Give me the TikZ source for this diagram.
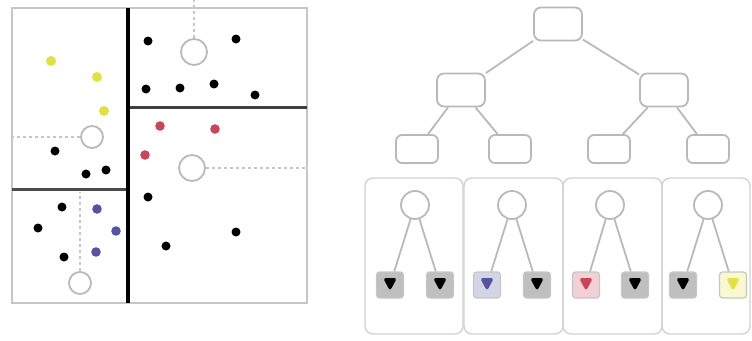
\documentclass[tikz,border=0pt]{standalone}
\usetikzlibrary{positioning,shapes.geometric}
\definecolor{pblue}{RGB}{84,84,160}
\definecolor{pred}{RGB}{200,70,90}
\definecolor{pyel}{RGB}{225,225,70}
\begin{document}
\begin{tikzpicture}[x=1pt, y=-1pt,
  r/.style={draw=gray!55, rounded corners=7pt, line width=1.8pt, minimum width=48pt, minimum height=33pt},
  q/.style={draw=gray!55, rounded corners=6pt, line width=1.8pt, minimum width=42pt, minimum height=28pt},
  c/.style={circle, draw=gray!55, line width=1.8pt, minimum size=28pt, inner sep=0pt},
  s/.style={circle, draw=gray!55, line width=1.8pt, minimum size=22pt, inner sep=0pt},
  lf/.style={draw=gray!45, rounded corners=3pt, line width=1.2pt, fill=#1!25, minimum width=27pt, minimum height=26pt,
    path picture={\fill[#1] ([yshift=1pt]path picture bounding box.center) ++(-7pt,6pt) -- ++(14pt,0) -- ++(-7pt,-13pt) -- cycle;}},
  bx/.style={draw=gray!35, rounded corners=8pt, line width=1.4pt},
  e/.style={draw=gray!55, line width=1.8pt},
  dl/.style={gray!45, dashed, line width=1.4pt}]
\useasboundingbox (0,0) rectangle (752,340);
% map of the points
\draw[gray!45, line width=2pt] (12,8) rectangle (307,303);
\draw[black!75, line width=3pt] (128,107) -- (307,107);
\draw[black!70, line width=3pt] (12,189) -- (128,189);
\draw[black, line width=4pt] (128,8) -- (128,303);
\node[s, minimum size=26pt] (s1) at (194,52) {};
\node[s] (s2) at (92,137) {};
\node[s, minimum size=26pt] (s3) at (192,168) {};
\node[s] (s4) at (80,283) {};
\coordinate (t1) at (194,0);
\coordinate (t2) at (12,137);
\coordinate (t3) at (307,168);
\coordinate (t4) at (80,192);
\draw[dl] (s1) -- (t1); \draw[dl] (s2) -- (t2);
\draw[dl] (s3) -- (t3); \draw[dl] (s4) -- (t4);
\foreach \p in {(148,41),(236,39),(146,89),(180,88),(214,84),(255,95),(55,151),(86,174),(106,170),
  (62,207),(38,228),(64,257),(148,197),(236,232),(166,246)}
  \fill[black] \p circle (4.5pt);
\foreach \p in {(51,61),(97,77),(104,111)} \fill[pyel] \p circle (5pt);
\foreach \p in {(160,126),(215,129),(145,155)} \fill[pred] \p circle (4.8pt);
\foreach \p in {(97,209),(116,231),(96,252)} \fill[pblue] \p circle (4.8pt);
% tree
\node[r] (rt) at (558,24) {};
\node[r] (a) at (461,90) {};
\node[r] (b) at (664,90) {};
\node[q] (a1) at (417,149) {};
\node[q] (a2) at (510,149) {};
\node[q] (b1) at (609,149) {};
\node[q] (b2) at (708,149) {};
\draw[e] (rt) -- (a); \draw[e] (rt) -- (b);
\draw[e] (a) -- (a1); \draw[e] (a) -- (a2);
\draw[e] (b) -- (b1); \draw[e] (b) -- (b2);
% buckets
\draw[bx] (365,178) rectangle (463,334);
\draw[bx] (464,178) rectangle (563,334);
\draw[bx] (563,178) rectangle (662,334);
\draw[bx] (662,178) rectangle (750,334);
\node[c] (k1) at (415,205) {};
\node[c] (k2) at (512,205) {};
\node[c] (k3) at (610,205) {};
\node[c] (k4) at (708,205) {};
\node[lf=black] (l1) at (390,285) {};
\node[lf=black] (l2) at (440,285) {};
\node[lf=pblue] (l3) at (487,285) {};
\node[lf=black] (l4) at (537,285) {};
\node[lf=pred] (l5) at (586,285) {};
\node[lf=black] (l6) at (635,285) {};
\node[lf=black] (l7) at (683,285) {};
\node[lf=pyel] (l8) at (733,285) {};
\draw[e] (k1) -- (l1); \draw[e] (k1) -- (l2);
\draw[e] (k2) -- (l3); \draw[e] (k2) -- (l4);
\draw[e] (k3) -- (l5); \draw[e] (k3) -- (l6);
\draw[e] (k4) -- (l7); \draw[e] (k4) -- (l8);
\end{tikzpicture}
\end{document}
